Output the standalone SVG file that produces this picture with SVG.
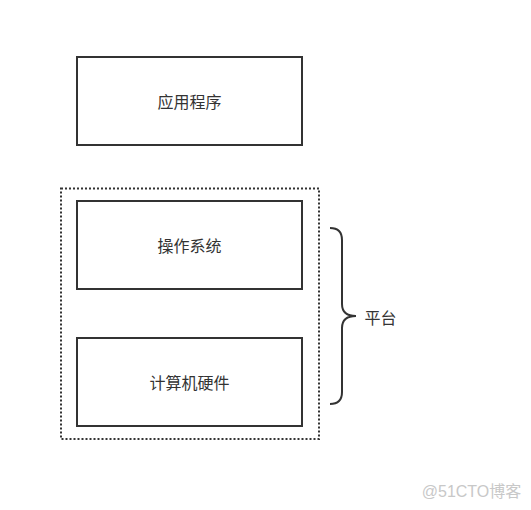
<svg xmlns="http://www.w3.org/2000/svg" width="531" height="510" viewBox="0 0 531 510">
<style>
.box{fill:#fff;stroke:#333;stroke-width:2}
.lbl{font-family:"Noto Sans CJK SC","Liberation Sans",sans-serif;font-size:16px;fill:#333;text-anchor:middle;dominant-baseline:central}
</style>
<rect width="531" height="510" fill="#fff"/>
<g id="app"><rect class="box" x="77" y="57" width="225" height="88"/><text class="lbl" x="189.5" y="101">应用程序</text></g>
<g id="platform"><rect x="61" y="188.5" width="258" height="250.5" fill="none" stroke="#333" stroke-width="2" stroke-dasharray="2 2"/></g>
<g id="os"><rect class="box" x="77" y="201" width="225" height="88"/><text class="lbl" x="189.5" y="245">操作系统</text></g>
<g id="hw"><rect class="box" x="77" y="338" width="225" height="88"/><text class="lbl" x="189.5" y="382">计算机硬件</text></g>
<g id="connectors"><path d="M330,228 Q342,228 342,240 L342,304 Q342,316 356,316 Q342,316 342,328 L342,392 Q342,404 330,404" fill="none" stroke="#333" stroke-width="2"/></g>
<g id="brace-label"><text class="lbl" x="380.5" y="317">平台</text></g>
<text x="471.5" y="491" font-family="'Liberation Sans','Noto Sans CJK SC',sans-serif" font-size="16" fill="#c8c8c8" text-anchor="middle" dominant-baseline="central">@51CTO博客</text>
</svg>
